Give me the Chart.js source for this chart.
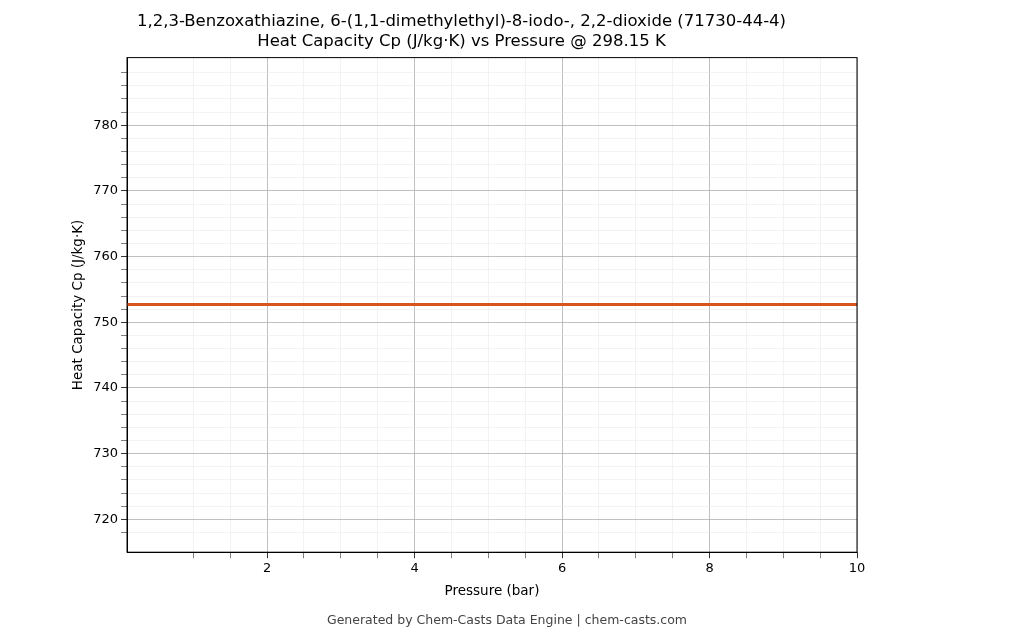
<!DOCTYPE html>
<html><head><meta charset="utf-8">
<script src="https://cdn.jsdelivr.net/npm/chart.js@4/dist/chart.umd.min.js"></script>
<style>body{margin:0;background:#fff}#w{width:1015px;height:644px;position:relative}</style>
</head><body><div id="w"><canvas id="c"></canvas></div>
<script>
const pressure = [0.1, 1, 2, 3, 4, 5, 6, 7, 8, 9, 10];
const cp = [752.7, 752.7, 752.7, 752.7, 752.7, 752.7, 752.7, 752.7, 752.7, 752.7, 752.7];
const F = "'DejaVu Sans', sans-serif";
function isMaj(v, s){ return v!=null && Math.abs(v/s - Math.round(v/s)) < 1e-6; }
function tv(c){ return c && c.tick ? c.tick.value : null; }
function filt(step){ return function(ax){ ax.ticks = ax.ticks.filter(t=>isMaj(t.value, step)); }; }
const footer = {id:'f', afterDraw(ch){const c=ch.ctx;c.save();c.font="12.5px "+F;c.fillStyle='#444';c.textAlign='center';c.fillText('Generated by Chem-Casts Data Engine | chem-casts.com',507,624);
 const a=ch.chartArea;c.strokeStyle='#000';c.lineWidth=1;c.strokeRect(a.left,a.top,a.right-a.left,a.bottom-a.top);c.restore();}};
new Chart(document.getElementById('c'), {
 type:'line',
 data:{datasets:[{data:pressure.map((p,i)=>({x:p,y:cp[i]})),borderColor:'#d9531e',borderWidth:3,pointRadius:0,tension:0}]},
 options:{responsive:true,maintainAspectRatio:false,animation:false,
  layout:{padding:{left:66,right:158,top:0,bottom:40}},
  plugins:{legend:{display:false},tooltip:{enabled:false},
   title:{display:true,text:['1,2,3-Benzoxathiazine, 6-(1,1-dimethylethyl)-8-iodo-, 2,2-dioxide (71730-44-4)','Heat Capacity Cp (J/kg·K) vs Pressure @ 298.15 K'],color:'#000',font:{family:F,size:16.5,weight:'normal'},padding:{top:12,bottom:6}}},
  scales:{
   x:{type:'linear',min:0.1,max:10,afterBuildTicks:filt(0.5),
    ticks:{stepSize:0.5,autoSkip:false,maxRotation:0,color:'#000',font:{family:F,size:13},callback:v=>isMaj(v,2)?String(v):''},
    grid:{color:c=>isMaj(tv(c),2)?'#b0b0b0':'#e6e6e6',lineWidth:c=>isMaj(tv(c),2)?0.8:0.5,tickColor:'#000',tickLength:6},
    border:{color:'#000'},
    title:{display:true,text:'Pressure (bar)',color:'#000',font:{family:F,size:13.5}}},
   y:{type:'linear',min:715,max:790.3,afterBuildTicks:filt(2),
    ticks:{stepSize:2,autoSkip:false,color:'#000',font:{family:F,size:13},callback:v=>isMaj(v,10)?String(v):''},
    grid:{color:c=>isMaj(tv(c),10)?'#b0b0b0':'#e6e6e6',lineWidth:c=>isMaj(tv(c),10)?0.8:0.5,tickColor:'#000',tickLength:6},
    border:{color:'#000'},
    title:{display:true,text:'Heat Capacity Cp (J/kg·K)',color:'#000',font:{family:F,size:13.5}}}
  }},
 plugins:[footer]
});
</script></body></html>
